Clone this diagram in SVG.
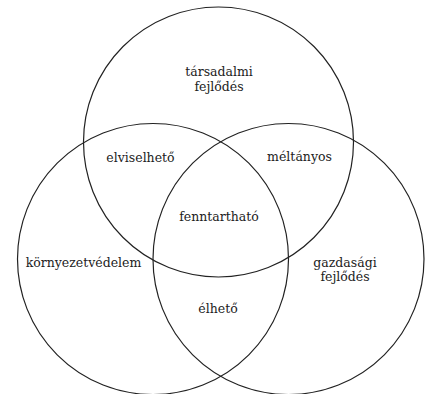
<svg xmlns="http://www.w3.org/2000/svg" width="431" height="394" viewBox="0 0 431 394">
<style>
.c{fill:none;stroke:#222;stroke-width:1.2}
.t{font-family:"DejaVu Serif","Liberation Serif",serif;font-size:12.5px;fill:#222;text-anchor:middle}
</style>
<rect width="431" height="394" fill="#fff"/>
<g id="social"><circle class="c" cx="218.5" cy="142" r="135"/>
<text class="t" x="219" y="76">társadalmi</text><text class="t" x="219" y="91">fejlődés</text></g>
<g id="environment"><circle class="c" cx="153" cy="259" r="135.5"/>
<text class="t" x="83.5" y="267">környezetvédelem</text></g>
<g id="economic"><circle class="c" cx="288.5" cy="259" r="135.5"/>
<text class="t" x="345" y="267">gazdasági</text><text class="t" x="345" y="281">fejlődés</text></g>
<g id="bearable"><text class="t" x="140.5" y="162">elviselhető</text></g>
<g id="equitable"><text class="t" x="299.5" y="161">méltányos</text></g>
<g id="sustainable"><text class="t" x="219" y="221">fenntartható</text></g>
<g id="viable"><text class="t" x="218" y="313">élhető</text></g>
<g id="connectors"></g>
</svg>
